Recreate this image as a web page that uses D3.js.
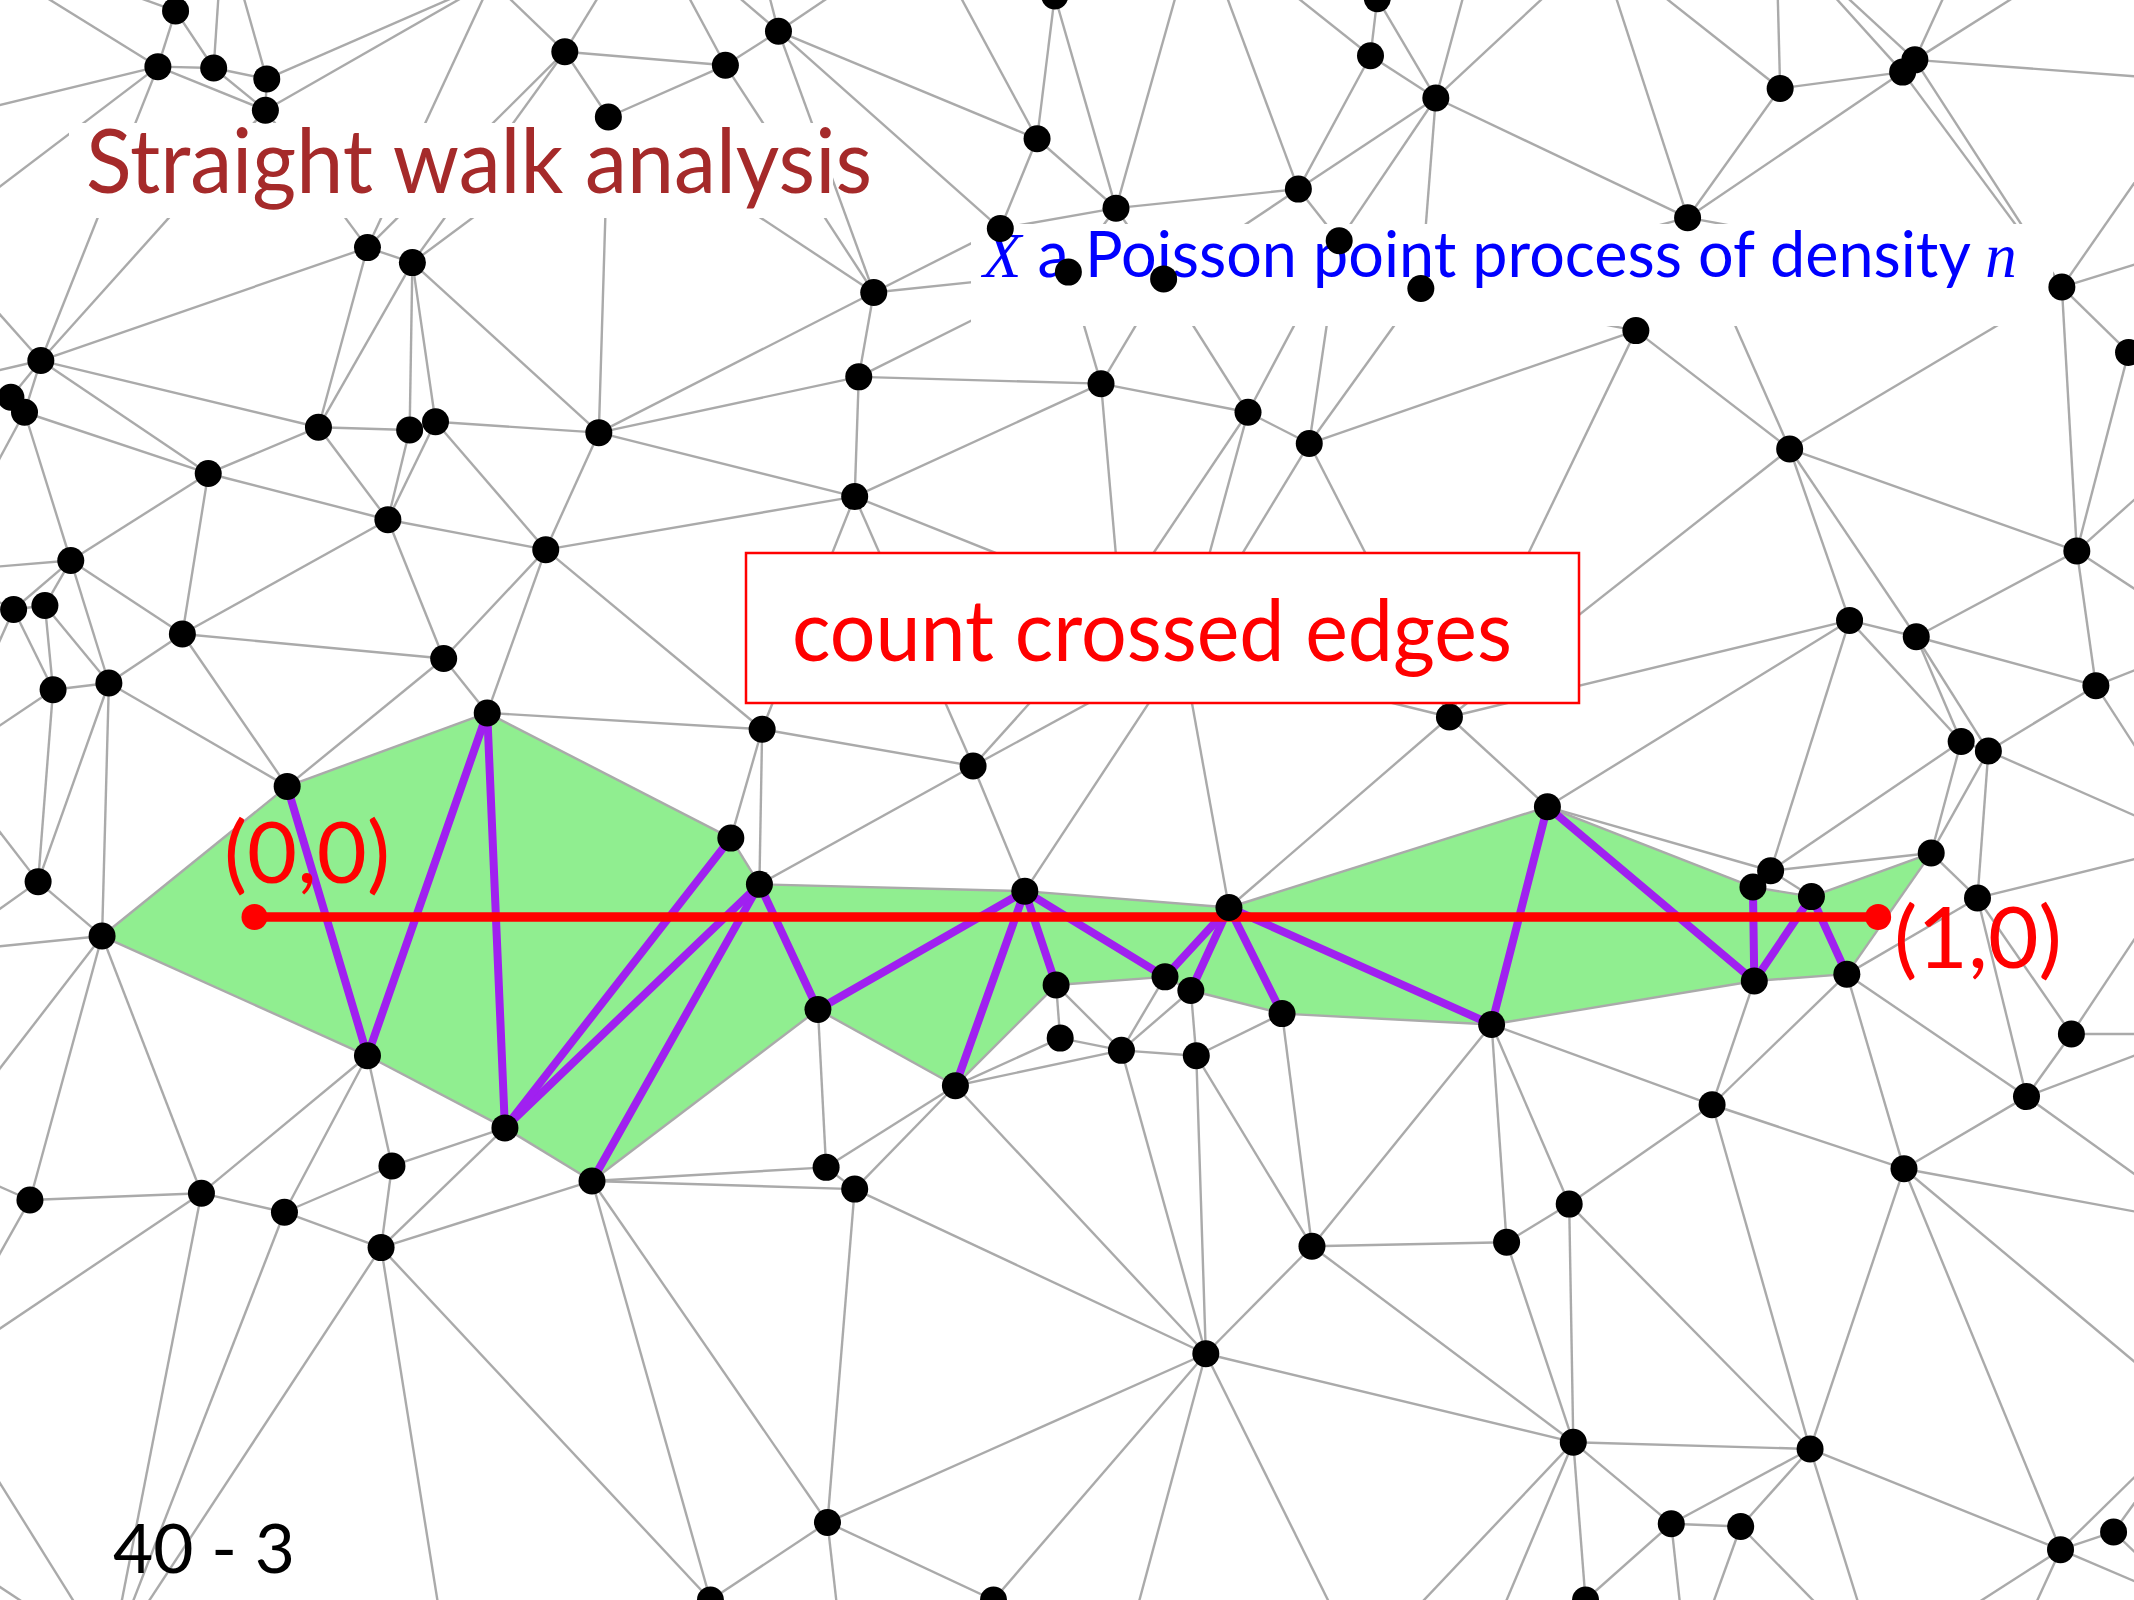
<!DOCTYPE html>
<html>
<head>
<meta charset="utf-8">
<script src="https://cdn.jsdelivr.net/npm/d3@7"></script>
<style>
  html, body { margin: 0; padding: 0; background: #fff; }
  svg { display: block; }
</style>
</head>
<body>
<svg id="slide"></svg>
<script>
const W = 2134, H = 1600;

// Triangulation window in sheet units (1568 x 1176).
const sheet = [1568, 1176];

// Sites of the point process that fall inside the window
// (two of them sit under the boxed note).
const sites = [
  [129,8],[116,49],[157,50],[196,58],[195,81],[415,38],[533,48],[572,23],[447,86],[775,-3],
  [1012,-1],[1007,41],[1055,72],[1308,65],[1398,53],[1407,44],[762,102],
  [820,153],[954,139],[735,168],[984,177],[1240,160],[270,182],[303,193],[642,215],[785,200],
  [855,205],[1044,212],[1515,211],[1202,243],[30,265],[1564,259],[631,277],[809,282],[8,292],
  [18,303],[234,314],[301,316],[320,310],[440,318],[917,303],[962,326],[1315,330],[153,348],
  [628,365],[285,382],[401,404],[1526,405],[52,412],[10,448],[33,445],[134,466],[326,484],
  [39,507],[80,502],[1359,456],[1408,468],[1540,504],[1065,527],[358,524],[560,536],[715,563],
  [823,443],[869,479],
  [1441,545],[1461,552],[211,578],[537,616],[1137,593],[1419,627],[1301,640],[1288,652],
  [1331,659],[28,648],[558,650],[753,655],[903,667],[1453,660],[75,688],[1357,716],[1289,721],
  [601,742],[776,724],[856,718],[875,728],[942,745],[1096,753],[270,776],[779,763],[824,772],
  [879,776],[702,798],[1522,760],[1489,806],[1258,812],[371,829],[288,857],[435,868],[607,858],
  [628,874],[1399,859],[22,882],[148,877],[209,891],[280,917],[964,916],[1107,913],[1153,885],
  [886,995],[1156,1060],[1330,1065],[608,1119],[1228,1120],[1279,1122],[1514,1139],[1553,1126],
  [522,1176],[730,1176],[1165,1176]
];

// Sites just outside the window, so border edges run off the sheet.
const outerSites = [
  [-60,-60],[164,-55],[361,-14],[475,-60],[540,-100],[680,-50],[880,-60],[1088,-50],[1175,-40],
  [1305,-50],[1450,-50],[1540,-40],[1640,-40],
  [-45,88],[-50,175],[-35,280],[-45,420],[-40,560],[-45,700],[-50,850],[-50,1010],[-40,1140],
  [1620,60],[1615,180],[1610,330],[1625,470],[1615,620],[1610,760],[1620,900],[1615,1040],[1610,1180],
  [-60,1240],[81,1220],[330,1230],[480,1235],[620,1225],[820,1240],[1000,1225],[1080,1240],
  [1240,1230],[1380,1225],[1470,1235],[1630,1240]
];

// The walk from (0,0) to (1,0).
const walkStart = [187, 674];
const walkEnd = [1380, 674];
const startLabel = "(0,0)";
const endLabel = "(1,0)";

const titleText = "Straight walk analysis";
const processText = ["X", " a Poisson point process of density ", "n"];
const boxText = "count crossed edges";
const pageText = "40 - 3";

const px = d3.scaleLinear().domain([0, sheet[0]]).range([0, W]);
const py = d3.scaleLinear().domain([0, sheet[1]]).range([0, H]);

const svg = d3.select("#slide").attr("width", W).attr("height", H);
svg.append("rect").attr("width", W).attr("height", H).attr("fill", "#fff");

const pts = sites.concat(outerSites).map(([x, y]) => [px(x), py(y)]);
const delaunay = d3.Delaunay.from(pts);
const { triangles, halfedges } = delaunay;

const A = [px(walkStart[0]), py(walkStart[1])];
const B = [px(walkEnd[0]), py(walkEnd[1])];

function orient(a, b, c) {
  return (b[0] - a[0]) * (c[1] - a[1]) - (b[1] - a[1]) * (c[0] - a[0]);
}
function crossesWalk(p, q) {
  const d1 = orient(A, B, p), d2 = orient(A, B, q);
  const d3 = orient(p, q, A), d4 = orient(p, q, B);
  return d1 * d2 < 0 && d3 * d4 < 0;
}
function contains(tri, p) {
  const [a, b, c] = tri;
  const o1 = orient(a, b, p), o2 = orient(b, c, p), o3 = orient(c, a, p);
  return (o1 >= 0 && o2 >= 0 && o3 >= 0) || (o1 <= 0 && o2 <= 0 && o3 <= 0);
}

// Triangles visited by the walk.
const visited = [];
for (let t = 0; t < triangles.length / 3; t++) {
  const tri = [pts[triangles[3 * t]], pts[triangles[3 * t + 1]], pts[triangles[3 * t + 2]]];
  if (crossesWalk(tri[0], tri[1]) || crossesWalk(tri[1], tri[2]) || crossesWalk(tri[2], tri[0]) ||
      contains(tri, A) || contains(tri, B)) {
    visited.push(tri);
  }
}

// Every Delaunay edge once, and those the walk crosses.
const edges = [], crossed = [];
for (let e = 0; e < triangles.length; e++) {
  if (e > halfedges[e]) {
    const p = pts[triangles[e]];
    const q = pts[triangles[e % 3 === 2 ? e - 2 : e + 1]];
    edges.push([p, q]);
    if (crossesWalk(p, q)) crossed.push([p, q]);
  }
}

const line = d3.line();

svg.append("g").selectAll("path").data(visited).join("path")
  .attr("d", d => line(d) + "Z")
  .attr("fill", "#90ee90")
  .attr("stroke", "#90ee90")
  .attr("stroke-width", 1);

svg.append("g").selectAll("line").data(edges).join("line")
  .attr("x1", d => d[0][0]).attr("y1", d => d[0][1])
  .attr("x2", d => d[1][0]).attr("y2", d => d[1][1])
  .attr("stroke", "#aaaaaa")
  .attr("stroke-width", 2.4);

svg.append("g").selectAll("line").data(crossed).join("line")
  .attr("x1", d => d[0][0]).attr("y1", d => d[0][1])
  .attr("x2", d => d[1][0]).attr("y2", d => d[1][1])
  .attr("stroke", "#a020f0")
  .attr("stroke-width", 8)
  .attr("stroke-linecap", "round");

svg.append("line")
  .attr("x1", A[0]).attr("y1", A[1]).attr("x2", B[0]).attr("y2", B[1])
  .attr("stroke", "#ff0000").attr("stroke-width", 9.5);

// Text fitted to a given width, starting at (x, baseline).
function fitText(g, x, y, width, size, fill, parts) {
  const t = g.append("text")
    .attr("font-family", "Lato, 'DejaVu Sans', sans-serif")
    .attr("font-size", size)
    .attr("fill", fill);
  parts.forEach(p => {
    const s = t.append("tspan").text(p.text);
    if (p.italic) s.attr("font-family", "'Liberation Serif', 'DejaVu Serif', serif").attr("font-style", "italic");
  });
  const w = t.node().getComputedTextLength();
  t.attr("transform", `translate(${x},${y}) scale(${width / w},1)`);
  return t;
}

const heads = svg.append("g");

// Title with its white backing.
heads.append("rect").attr("x", 69).attr("y", 123).attr("width", 764).attr("height", 95).attr("fill", "#fff");
fitText(heads, 86, 193, 786, 90, "#a52a2a", [{ text: titleText }]);

// Process description with its white backing.
heads.append("rect").attr("x", 971).attr("y", 224).attr("width", 1082).attr("height", 102).attr("fill", "#fff");
fitText(heads, 983, 277, 1034, 63, "#0000ff", [
  { text: processText[0], italic: true },
  { text: processText[1] },
  { text: processText[2], italic: true }
]);

svg.append("g").selectAll("circle").data(sites).join("circle")
  .attr("cx", d => px(d[0])).attr("cy", d => py(d[1]))
  .attr("r", 13.5)
  .attr("fill", "#000");

// Boxed note, opaque over the sites beneath it.
const note = svg.append("g");
note.append("rect").attr("x", 746).attr("y", 553).attr("width", 833).attr("height", 150)
  .attr("fill", "#fff").attr("stroke", "#ff0000").attr("stroke-width", 2.5);
fitText(note, 792, 661, 720, 86, "#ff0000", [{ text: boxText }]);

svg.append("g").selectAll("circle").data([walkStart, walkEnd]).join("circle")
  .attr("cx", d => px(d[0])).attr("cy", d => py(d[1]))
  .attr("r", 13)
  .attr("fill", "#ff0000");

const marks = svg.append("g");
fitText(marks, 224, 883, 166, 85, "#ff0000", [{ text: startLabel }]);
fitText(marks, 1894, 968, 168, 85, "#ff0000", [{ text: endLabel }]);
fitText(marks, 113, 1573, 182, 68, "#000", [{ text: pageText }]);
</script>
</body>
</html>
